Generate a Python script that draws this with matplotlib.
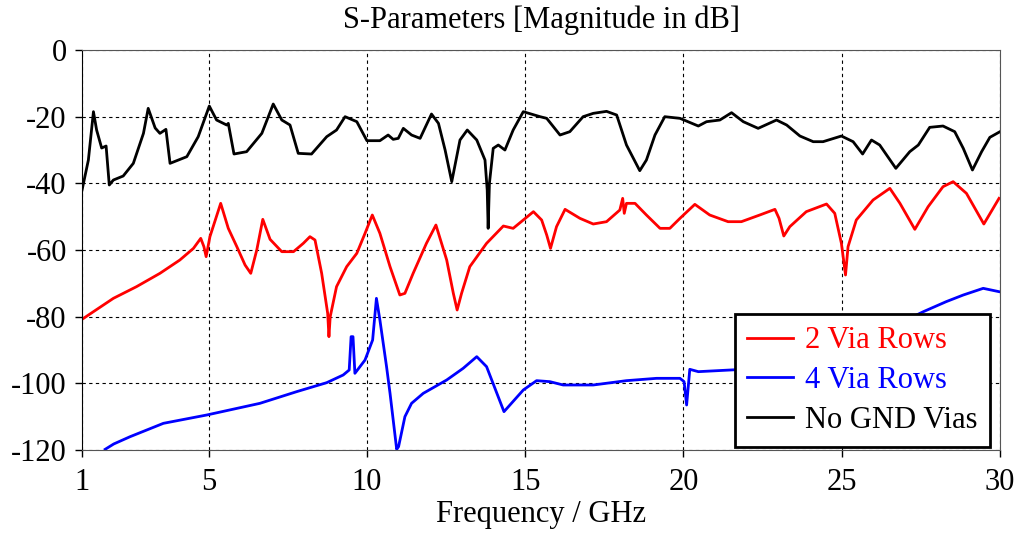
import matplotlib
matplotlib.use('Agg')
import matplotlib.pyplot as plt

# S-parameter traces (frequency in GHz, magnitude in dB)
black_f = [1.0, 1.2, 1.36, 1.46, 1.62, 1.76, 1.86, 1.99, 2.30, 2.62, 2.94, 3.09, 3.31, 3.46, 3.65,
           3.78, 4.31, 4.67, 5.02, 5.25, 5.57, 5.62, 5.80, 6.2, 6.68, 7.04, 7.31, 7.57, 7.83, 8.25,
           8.73, 9.04, 9.31, 9.68, 10.0, 10.41, 10.67, 10.83, 10.99, 11.15, 11.41, 11.68, 12.04,
           12.26, 12.47, 12.68, 12.94, 13.17, 13.47, 13.73, 13.80, 13.83, 13.87, 13.99, 14.15,
           14.36, 14.62, 14.94, 15.47, 15.68, 16.1, 16.41, 16.83, 17.15, 17.57, 17.89, 18.2, 18.62,
           18.83, 19.1, 19.41, 19.89, 20.47, 20.73, 21.15, 21.52, 21.89, 22.36, 22.94, 23.26, 23.68,
           24.1, 24.41, 24.99, 25.36, 25.66, 25.94, 26.2, 26.71, 27.15, 27.42, 27.78, 28.2, 28.57,
           28.84, 29.13, 29.42, 29.68, 30.0]
black_db = [-42, -33, -18.5, -24, -29.4, -28.8, -40.5, -39, -37.8, -34, -25, -17.5, -23.4, -25, -23.8,
            -34, -32, -26, -16.8, -21, -22.5, -22, -31.2, -30.5, -25, -16.2, -21, -22.5, -31, -31.2,
            -26, -24, -20, -21.5, -27.2, -27.2, -25.5, -26.8, -26.5, -23.5, -25.5, -26.5, -19.2,
            -22, -30, -39.5, -27, -24, -27, -33, -42, -53.5, -40, -29.5, -28.5,
            -30, -24, -18.5, -20, -20.5, -25.5, -24.5, -20, -19, -18.4, -19.5, -28.5, -36.2,
            -33, -25.5, -20, -20.5, -22.8, -21.5, -21, -18.8, -21.5, -23.5, -21, -22.5, -25.8,
            -27.5, -27.5, -25.8, -27.5, -31.2, -27, -28.5, -35.5, -30.5, -28.5, -23.2, -22.8, -24.5,
            -29.5, -36, -30.5, -26.2, -24.5]

red_f = [1.0, 1.36, 1.99, 2.72, 3.46, 4.09, 4.52, 4.75, 4.85, 4.92, 5.04, 5.38, 5.62, 5.89, 6.15,
         6.33, 6.52, 6.71, 6.94, 7.31, 7.68, 7.99, 8.2, 8.36, 8.57, 8.76, 8.80, 8.84, 9.04, 9.36,
         9.68, 9.94, 10.17, 10.41, 10.73, 11.04, 11.2, 11.46, 11.88, 12.18, 12.52, 12.73, 12.85,
         12.99, 13.25, 13.78, 14.31, 14.62, 14.94, 15.26, 15.52, 15.68, 15.8, 15.99, 16.26, 16.73,
         17.15, 17.57, 17.99, 18.08, 18.13, 18.2, 18.47, 18.83, 19.26, 19.57, 19.89, 20.36, 20.83,
         21.41, 21.83, 22.41, 22.89, 23.02, 23.17, 23.36, 23.88, 24.52, 24.78, 24.99, 25.12, 25.2,
         25.46, 25.99, 26.52, 26.84, 27.31, 27.73, 28.2, 28.52, 28.94, 29.49, 29.97]
red_db = [-80.8, -78.5, -74.5, -71, -67, -63, -59.5, -56.5, -59, -62, -56, -46, -53.5, -59, -64.5,
          -67, -60, -50.8, -56.8, -60.5, -60.5, -58, -56, -57, -67, -79, -86, -80, -71, -65,
          -61, -55, -49.5, -55, -65, -73.5, -73, -67, -58, -52.5, -63, -73, -78,
          -73, -65, -58, -52.8, -53.5, -51, -48.5, -51, -55.5, -59.5, -53, -47.8, -50.5,
          -52.2, -51.5, -48, -44.5, -49, -46, -46, -49.5, -53.5, -53.5, -50.5, -46.3, -49.5,
          -51.5, -51.5, -49.5, -47.8, -50.5, -55.8, -53, -48.5, -46.2, -49, -58, -67.5, -59,
          -51, -45, -41.5, -46, -53.8, -47, -41, -39.5, -43, -52.2, -44.5]

blue_f = [1.73, 2.0, 2.52, 3.57, 4.94, 6.62, 7.78, 8.73, 9.25, 9.44, 9.50, 9.56, 9.62, 9.94, 10.18,
          10.3, 10.41, 10.62, 10.73, 10.94, 11.0, 11.2, 11.41, 11.78, 12.52, 13.04, 13.47, 13.78,
          14.33, 14.94, 15.36, 15.78, 16.2, 17.15, 18.2, 19.15, 19.89, 20.02, 20.1, 20.2, 20.47,
          21.89, 23.5, 25.0, 26.5, 27.58, 28.3, 28.84, 29.47, 29.97]
blue_db = [-119.8, -118.2, -116, -112, -109.5, -106, -102.5, -99.8, -97.5, -96, -86, -86, -97, -93, -87,
           -74.5, -81, -95, -103, -119.8, -119, -110, -106, -103, -99, -95.5, -92, -95,
           -108.5, -102, -99.2, -99.5, -100.5, -100.5, -99.2, -98.5, -98.5, -99.5, -106.5, -95.8, -96.5,
           -95.8, -94.5, -91, -83.5, -78.5, -75.5, -73.5, -71.5, -72.5]

x_ticks = [1, 5, 10, 15, 20, 25, 30]
y_ticks = [0, -20, -40, -60, -80, -100, -120]

plt.rcParams['font.family'] = ['Liberation Serif', 'DejaVu Serif']
plt.rcParams['font.size'] = 22

fig = plt.figure(figsize=(10.18, 5.35), dpi=100)
ax = fig.add_axes([0.0806, 0.1589, 0.9017, 0.7476])

ax.plot(red_f, red_db, color='red', lw=2.0, label='2 Via Rows')
ax.plot(blue_f, blue_db, color='blue', lw=2.0, label='4 Via Rows')
ax.plot(black_f, black_db, color='black', lw=2.0, label='No GND Vias')

ax.set_xlim(1, 30)
ax.set_ylim(-120, 0)
ax.set_xticks(x_ticks)
ax.set_yticks(y_ticks)
ax.set_yticklabels([str(v) for v in y_ticks])  # plain hyphen like the original
ax.grid(True, color='black', linestyle=(0, (3, 3)), linewidth=0.8)
ax.tick_params(direction='out', length=5, width=1, pad=6)
ax.tick_params(axis='x', pad=8)

for side in ['top', 'right', 'bottom']:
    ax.spines[side].set_color('#555555')
ax.spines['left'].set_color('black')

ax.set_title('S-Parameters [Magnitude in dB]', fontsize=22, pad=16)
ax.set_xlabel('Frequency / GHz', fontsize=22, labelpad=2)

leg = ax.legend(loc='lower right', bbox_to_anchor=(0.989, 0.0075), borderaxespad=0,
                fancybox=False, framealpha=1, edgecolor='black',
                handlelength=1.5, handletextpad=0.4, labelspacing=0.35, borderpad=0.4,
                fontsize=22)
leg.get_frame().set_linewidth(2.0)
for txt, c in zip(leg.get_texts(), ['red', 'blue', 'black']):
    txt.set_color(c)

fig.savefig('out.png', dpi=100)
